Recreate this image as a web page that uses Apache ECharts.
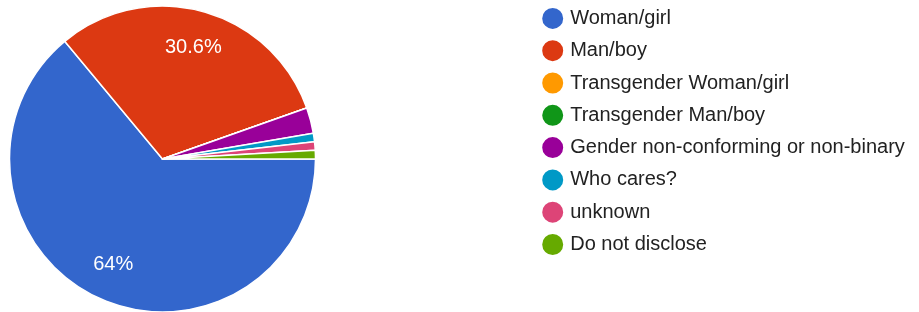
<!DOCTYPE html>
<html><head><meta charset="utf-8">
<script src="https://cdn.jsdelivr.net/npm/echarts@6/dist/echarts.min.js"></script>
<style>html,body{margin:0;padding:0;background:#fff}#c{width:919px;height:312px}</style>
</head><body><div id="c"></div>
<script>
const categories = ["Woman/girl","Man/boy","Transgender Woman/girl","Transgender Man/boy","Gender non-conforming or non-binary","Who cares?","unknown","Do not disclose"];
const counts = [71,34,0,0,3,1,1,1];
const colors = ["#3366cc","#dc3912","#ff9900","#109618","#990099","#0099c6","#dd4477","#66aa00"];

const data = categories.map((n,i)=>({name:n,value:counts[i]}));
const fmt = p => (+p.percent.toFixed(1)) + '%';
const FONT = '"Liberation Sans", Arial, sans-serif';
const chart = echarts.init(document.getElementById('c'));
chart.setOption({
  animation:false,
  color: colors,
  legend:{
    orient:'vertical', left:535.2, top:0.9, icon:'circle', itemWidth:23, itemHeight:23, itemGap:7.3,
    data: categories,
    textStyle:{fontFamily:FONT, fontSize:20, lineHeight:20, color:'#222', padding:[0,0,0,1]}
  },
  series:[
    {type:'pie', center:[162.5,159], radius:[0,153], startAngle:0, clockwise:true,
     avoidLabelOverlap:false, silent:true,
     itemStyle:{borderColor:'#fff', borderWidth:1.5},
     label:{show:false}, labelLine:{show:false}, data},
    {type:'pie', center:[162.5,159], radius:[0,226], startAngle:0, clockwise:true,
     avoidLabelOverlap:false, silent:true, legendHoverLink:false,
     itemStyle:{color:'rgba(0,0,0,0)', borderWidth:0},
     label:{show:true, position:'inside', color:'#fff', fontFamily:FONT, fontSize:20,
       formatter: p => p.percent > 10 ? fmt(p) : ''},
     labelLine:{show:false}, data: data.map(d=>({name:d.name, value:d.value}))}
  ]
});
</script></body></html>
